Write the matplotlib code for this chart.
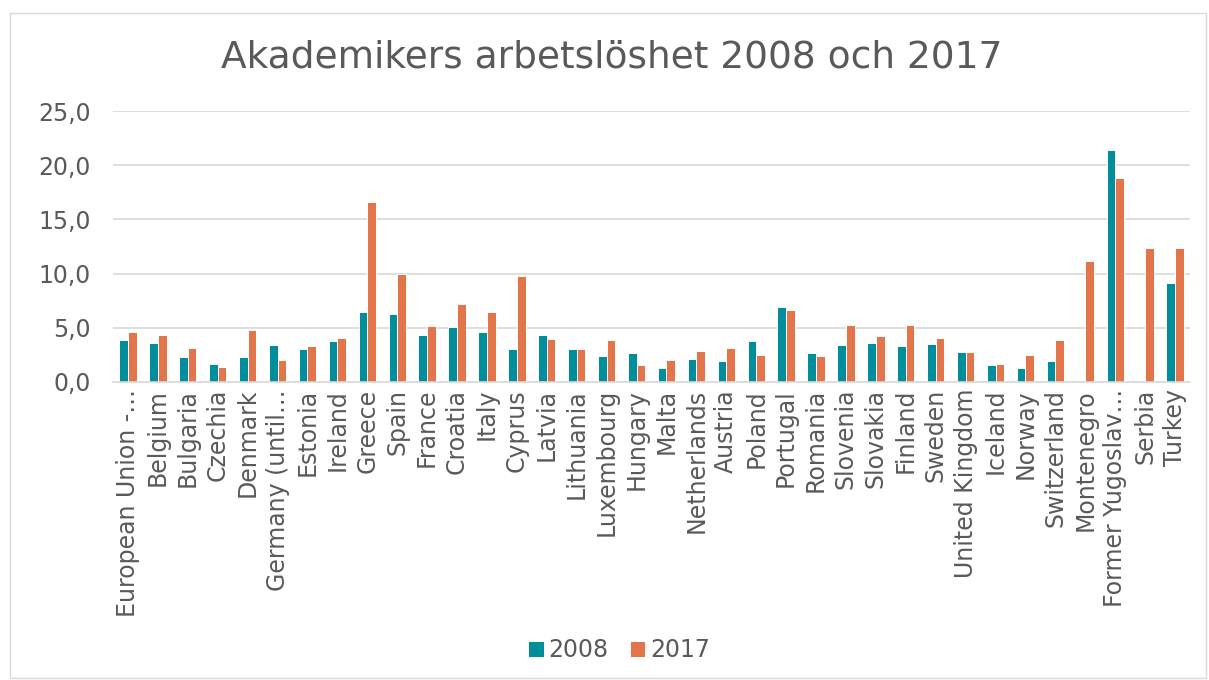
import numpy as np
import matplotlib.pyplot as plt
from matplotlib.patches import Rectangle

countries = ['European Union -…', 'Belgium', 'Bulgaria', 'Czechia', 'Denmark',
             'Germany (until…', 'Estonia', 'Ireland', 'Greece', 'Spain', 'France',
             'Croatia', 'Italy', 'Cyprus', 'Latvia', 'Lithuania', 'Luxembourg',
             'Hungary', 'Malta', 'Netherlands', 'Austria', 'Poland', 'Portugal',
             'Romania', 'Slovenia', 'Slovakia', 'Finland', 'Sweden',
             'United Kingdom', 'Iceland', 'Norway', 'Switzerland', 'Montenegro',
             'Former Yugoslav…', 'Serbia', 'Turkey']

y2008 = [3.9, 3.6, 2.3, 1.7, 2.3, 3.4, 3.0, 3.8, 6.5, 6.3, 4.3, 5.1, 4.6, 3.0,
         4.3, 3.0, 2.4, 2.7, 1.3, 2.1, 1.9, 3.8, 6.9, 2.7, 3.4, 3.6, 3.3, 3.5,
         2.8, 1.6, 1.3, 1.9, np.nan, 21.4, np.nan, 9.1]
y2017 = [4.6, 4.3, 3.1, 1.4, 4.8, 2.0, 3.3, 4.1, 16.6, 10.0, 5.2, 7.2, 6.5, 9.8,
         4.0, 3.0, 3.9, 1.6, 2.0, 2.9, 3.1, 2.5, 6.6, 2.4, 5.3, 4.2, 5.3, 4.1,
         2.8, 1.7, 2.5, 3.9, 11.2, 18.8, 12.4, 12.4]

c08 = '#008D9C'
c17 = '#E2764A'
grey = '#595959'

fig = plt.figure(figsize=(12.09, 6.8), dpi=100)
fig.patches.append(Rectangle((10 / 1209, 1 - 678 / 680), 1196 / 1209, 665 / 680,
                             transform=fig.transFigure, fill=False,
                             edgecolor='#D9D9D9', linewidth=1))
ax = fig.add_axes([113 / 1209, 1 - 382 / 680, (1190 - 113) / 1209, (382 - 111) / 680])

x = np.arange(len(countries))
w = 0.29
ax.bar(x - w / 2, y2008, w, color=c08, edgecolor='white', linewidth=0.7, label='2008')
ax.bar(x + w / 2, y2017, w, color=c17, edgecolor='white', linewidth=0.7, label='2017')

ax.set_xlim(-0.5, len(countries) - 0.5)
ax.set_ylim(0, 25)
ax.set_yticks([0, 5, 10, 15, 20, 25])
ax.set_yticklabels(['0,0', '5,0', '10,0', '15,0', '20,0', '25,0'])
ax.yaxis.grid(True, color='#D9D9D9', linewidth=1.2)
ax.set_axisbelow(True)
for s in ['top', 'right', 'left']:
    ax.spines[s].set_visible(False)
ax.spines['bottom'].set_color('#D9D9D9')
ax.spines['bottom'].set_linewidth(1.2)

ax.set_xticks(x)
ax.set_xticklabels(countries, rotation=90, fontsize=17, color=grey)
ax.tick_params(axis='x', length=0, pad=5)
ax.tick_params(axis='y', length=0, labelsize=17, labelcolor=grey, pad=16)

fig.text(612 / 1209, 1 - 58 / 680, 'Akademikers arbetslöshet 2008 och 2017', ha='center',
         va='center', fontsize=27, color=grey)

fig.legend(loc='center', bbox_to_anchor=(619 / 1209, 1 - 650 / 680), ncol=2, frameon=False,
           fontsize=17, labelcolor=grey, handlelength=0.65, handleheight=0.65,
           handletextpad=0.2, columnspacing=0.9)

fig.savefig('out.png', dpi=100)
